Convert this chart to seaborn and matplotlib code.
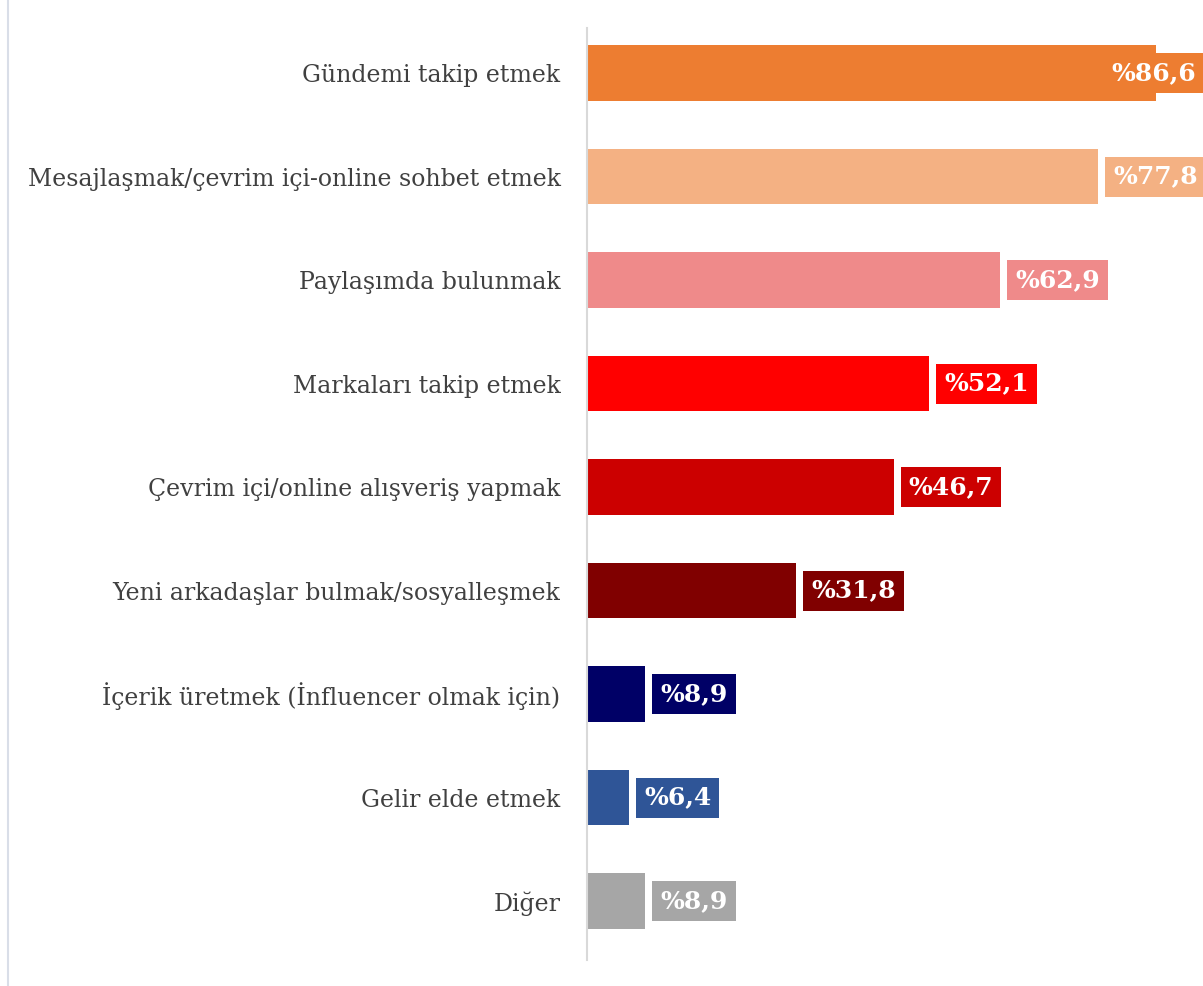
import matplotlib
matplotlib.use('Agg')
import matplotlib.pyplot as plt
import seaborn as sns
from matplotlib.lines import Line2D

# data
categories = [
    'Gündemi takip etmek',
    'Mesajlaşmak/çevrim içi-online sohbet etmek',
    'Paylaşımda bulunmak',
    'Markaları takip etmek',
    'Çevrim içi/online alışveriş yapmak',
    'Yeni arkadaşlar bulmak/sosyalleşmek',
    'İçerik üretmek (İnfluencer olmak için)',
    'Gelir elde etmek',
    'Diğer',
]
values = [86.6, 77.8, 62.9, 52.1, 46.7, 31.8, 8.9, 6.4, 8.9]
value_labels = ['%86,6', '%77,8', '%62,9', '%52,1', '%46,7', '%31,8', '%8,9', '%6,4', '%8,9']
colors = ['#ED7D31', '#F4B183', '#EF8A8A', '#FF0000', '#CC0000',
          '#800000', '#000066', '#2F5597', '#A6A6A6']

sns.set_style('white')
plt.rcParams['font.family'] = ['DejaVu Serif', 'DejaVu Sans']

fig = plt.figure(figsize=(12.03, 9.86), dpi=100)
ax = fig.add_axes([587 / 1203, 1 - 960 / 986, 1 - 587 / 1203, 932 / 986])

sns.barplot(x=values, y=categories, hue=categories, palette=colors,
            legend=False, width=0.54, saturation=1, orient='h',
            linewidth=0, ax=ax)

xmax = 93.75
ax.set_xlim(0, xmax)
ax.set_ylim(8.57, -0.435)

fs = 18
pad = 0.32
for i, (v, lab, c) in enumerate(zip(values, value_labels, colors)):
    box = dict(boxstyle=f'square,pad={pad}', fc=c, ec='none')
    if v > 80:
        # label pushed back inside the plot area
        ax.annotate(lab, xy=(1.0, i), xycoords=('axes fraction', 'data'),
                    xytext=(-pad * fs + 0.5, 0), textcoords='offset points',
                    ha='right', va='center', color='white', fontsize=fs,
                    fontweight='bold', bbox=box, clip_on=False)
    else:
        ax.annotate(lab, xy=(v, i), xytext=(5 + pad * fs, 0), textcoords='offset points',
                    ha='left', va='center', color='white', fontsize=fs,
                    fontweight='bold', bbox=box, clip_on=False)

ax.set_xlabel('')
ax.set_ylabel('')
ax.set_xticks([])
ax.tick_params(axis='y', length=0, pad=19, labelsize=17, labelcolor='#404040')
for s in ['top', 'right', 'bottom']:
    ax.spines[s].set_visible(False)
ax.spines['left'].set_color('#D9D9D9')
ax.spines['left'].set_linewidth(1.5)

fig.add_artist(Line2D([8 / 1203, 8 / 1203], [0, 1], color='#D9DEE8', lw=1.5))

fig.savefig('out.png', dpi=100)
